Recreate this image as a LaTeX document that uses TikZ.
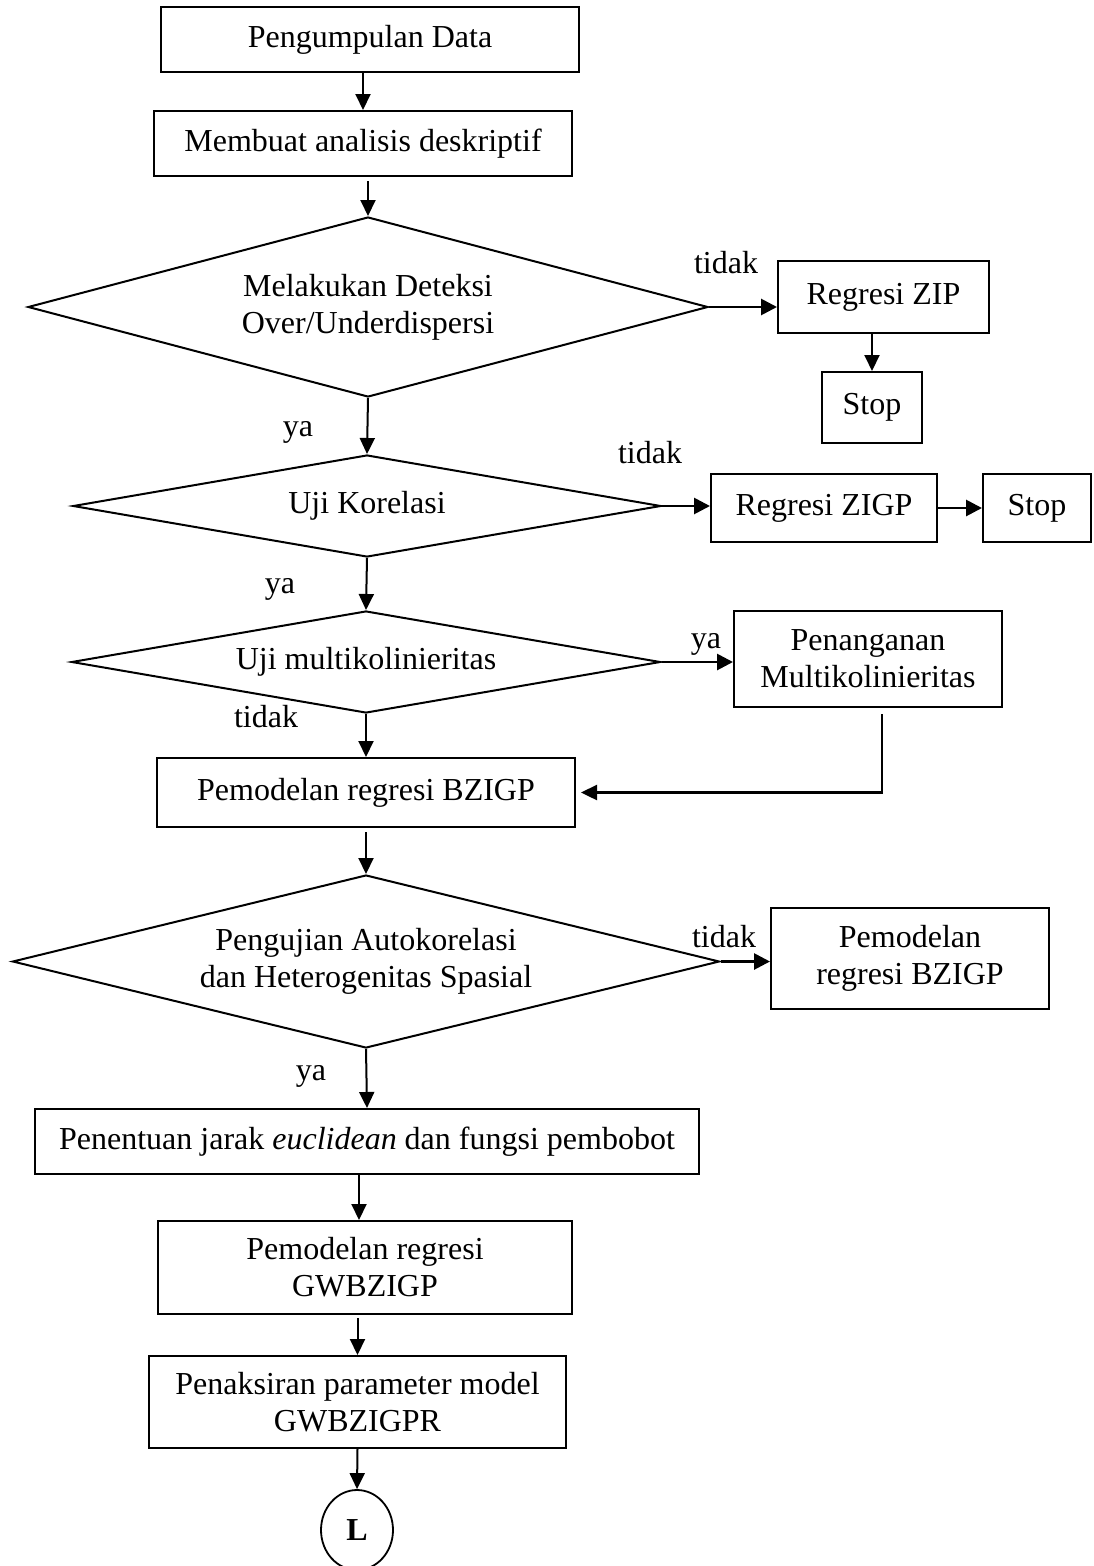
\documentclass[tikz,border=0pt]{standalone}
\usepackage{fontspec}
\setmainfont{Liberation Serif}
\usetikzlibrary{shapes.geometric,arrows.meta}

\begin{document}
\begin{tikzpicture}[x=1pt,y=-1pt,
  every node/.style={font=\fontsize{32}{37}\selectfont, inner sep=0pt},
  procbox/.style={draw, line width=2pt, rectangle, align=center},
  decision/.style={draw, line width=2pt, diamond, align=center},
  arr/.style={line width=2pt, -{Triangle[length=16pt 0,width=15pt 0]}},
  tharr/.style={line width=2.8pt, -{Triangle[length=16pt 0,width=16pt 0]}},
  lbl/.style={anchor=base},
]
\useasboundingbox (0,0) rectangle (1094,1566);

% main column
\node[procbox, minimum width=418pt, minimum height=65pt] (b1) at (370,39.5) {Pengumpulan Data};
\node[procbox, minimum width=418pt, minimum height=65pt] (b2) at (363,143.5) {Membuat analisis deskriptif};
\node[decision, minimum width=680pt, minimum height=180pt, aspect=3.78] (d1) at (368,307) {Melakukan Deteksi\\Over/Underdispersi};
\node[decision, minimum width=588pt, minimum height=102pt, aspect=5.76] (d2) at (367,506) {Uji Korelasi};
\node[decision, minimum width=589pt, minimum height=102pt, aspect=5.77] (d3) at (366,662) {Uji multikolinieritas};
\node[procbox, minimum width=418pt, minimum height=69pt] (bz) at (366,792.5) {Pemodelan regresi BZIGP};
\node[decision, minimum width=707pt, minimum height=173pt, aspect=4.09] (d4) at (366,961.5) {Pengujian Autokorelasi\\dan Heterogenitas Spasial};
\node[procbox, minimum width=664pt, minimum height=65pt] (pt) at (367,1141.5) {Penentuan jarak \textit{euclidean} dan fungsi pembobot};
\node[procbox, minimum width=414pt, minimum height=93pt] (gw) at (365,1267.5) {Pemodelan regresi\\GWBZIGP};
\node[procbox, minimum width=417pt, minimum height=92pt] (pk) at (357.5,1402) {Penaksiran parameter model\\GWBZIGPR};
\node[draw, ellipse, line width=1.8pt, minimum width=72pt, minimum height=80pt] (L) at (357,1530) {\textbf{L}};

% side branches
\node[procbox, minimum width=211pt, minimum height=72pt] (zip) at (883.5,297) {Regresi ZIP};
\node[procbox, minimum width=100pt, minimum height=71pt] (s1) at (872,407.5) {Stop};
\node[procbox, minimum width=226pt, minimum height=68pt] (zigp) at (824,508) {Regresi ZIGP};
\node[procbox, minimum width=108pt, minimum height=68pt] (s2) at (1037,508) {Stop};
\node[procbox, minimum width=268pt, minimum height=96pt] (pm) at (868,659) {Penanganan\\Multikolinieritas};
\node[procbox, minimum width=278pt, minimum height=101pt] (bz2) at (910,958.5) {Pemodelan\\regresi BZIGP};

% branch labels
\node[lbl] (t1) at (726,273) {tidak};
\node[lbl] (y1) at (298,436) {ya};
\node[lbl] (t2) at (650,463) {tidak};
\node[lbl] (y2) at (280,593) {ya};
\node[lbl] (y3) at (706,648) {ya};
\node[lbl] (t3) at (266,727) {tidak};
\node[lbl] (t4) at (724,947) {tidak};
\node[lbl] (y4) at (311,1080) {ya};

% connectors
\draw[arr] (b2.north |- b1.south) -- (b2.north);
\draw[arr, shorten <=4pt] (d1.north |- b2.south) -- (d1.north);
\draw[tharr] (d1.east) -- (d1.east -| zip.west);
\draw[arr] (s1.north |- zip.south) -- (s1.north);
\draw[arr] (d1.south) -- (d2.north);
\draw[tharr] (d2.east) -- (d2.east -| zigp.west);
\draw[tharr] (zigp.east) -- (s2.west);
\draw[arr] (d2.south) -- (d3.north);
\draw[tharr] (d3.east) -- (d3.east -| pm.west);
\draw[arr] (d3.south) -- (bz.north);
\draw[arr, line width=2.4pt, shorten <=6pt, shorten >=5pt] ([xshift=14pt]pm.south) |- (bz.east);
\draw[arr, shorten <=4pt] (bz.south) -- (d4.north);
\draw[tharr] (d4.east) -- (d4.east -| bz2.west);
\draw[arr] (d4.south) -- (pt.north);
\draw[arr] ([xshift=-6pt]gw.north |- pt.south) -- ([xshift=-6pt]gw.north);
\draw[arr, shorten <=3pt] (pk.north |- gw.south) -- (pk.north);
\draw[arr] (pk.south) -- (L.north);
\end{tikzpicture}
\end{document}
